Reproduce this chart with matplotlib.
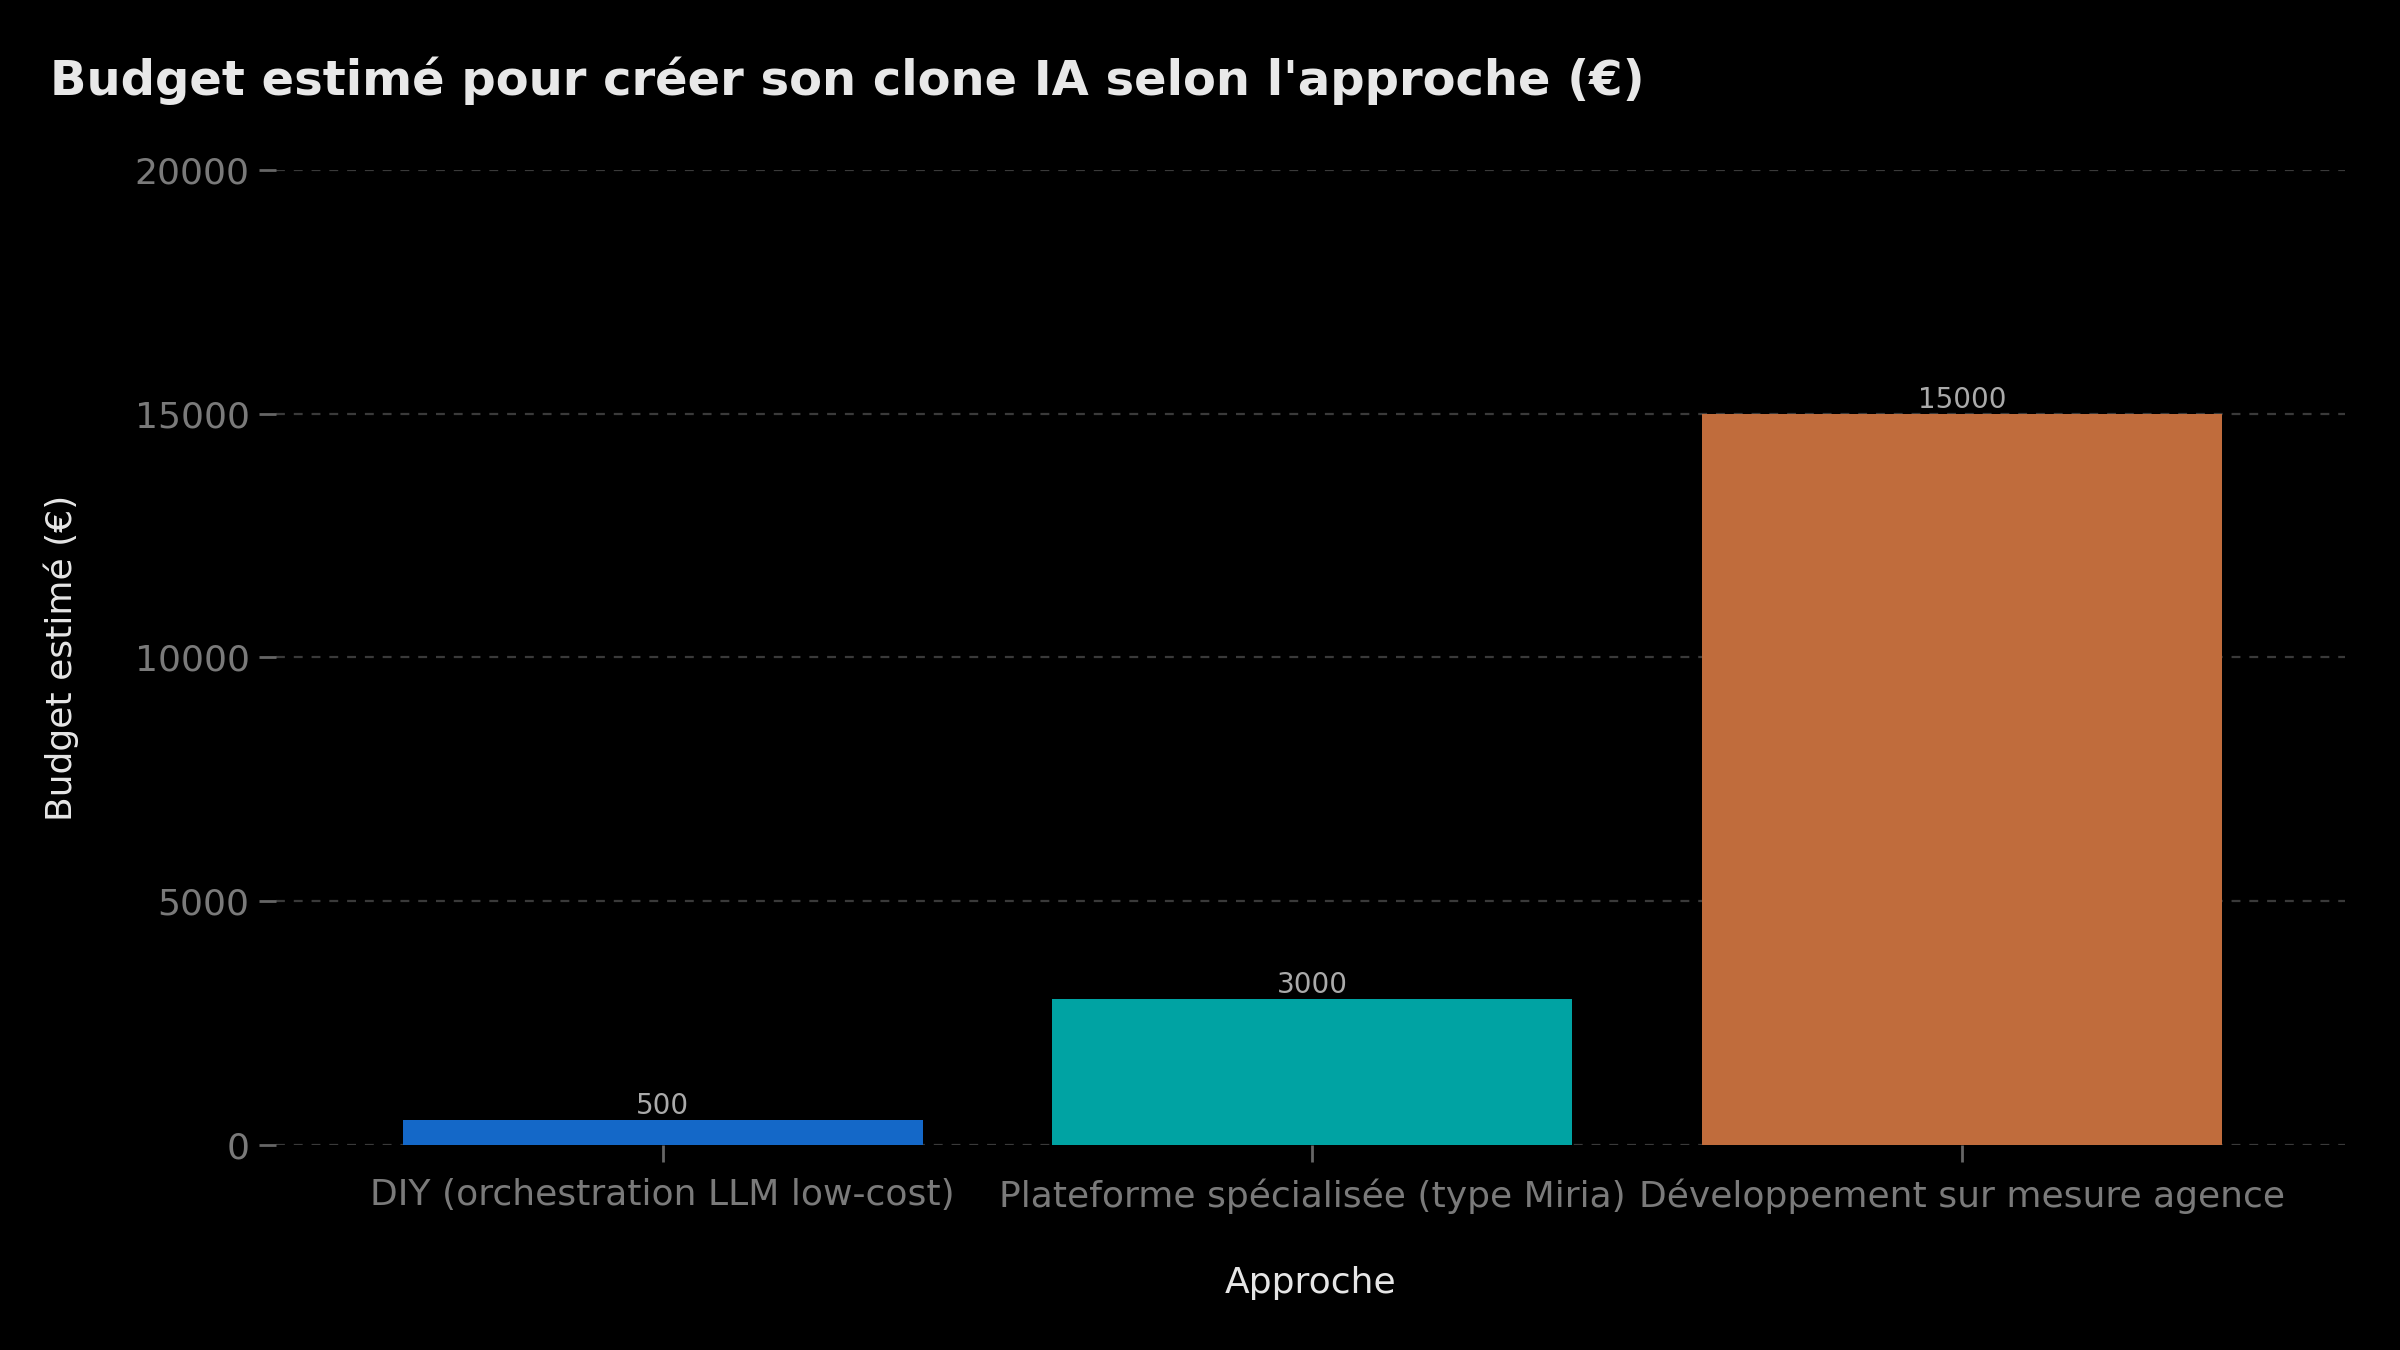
import matplotlib
matplotlib.use('Agg')
import matplotlib.pyplot as plt

# data
approches = ['DIY (orchestration LLM low-cost)',
             'Plateforme spécialisée (type Miria)',
             'Développement sur mesure agence']
budgets = [500, 3000, 15000]
couleurs = ['#1468C8', '#00A3A3', '#C06C3C']
yticks = [0, 5000, 10000, 15000, 20000]

plt.rcParams['font.family'] = ['DejaVu Sans']

fig = plt.figure(figsize=(12, 6.75), dpi=200, facecolor='black')
ax = fig.add_axes([0.115, 0.152, 0.862, 0.722])
ax.set_facecolor('black')

x = list(range(len(approches)))
bars = ax.bar(x, budgets, width=0.8, color=couleurs, zorder=3)
for b, v in zip(bars, budgets):
    ax.text(b.get_x() + b.get_width() / 2, v, str(v), ha='center', va='bottom',
            fontsize=10, color='#aaaaaa', zorder=4)

ax.set_xticks(x)
ax.set_xticklabels(approches)
ax.set_yticks(yticks)
ax.set_xlim(-0.595, 2.589)
ax.set_ylim(0, 20000)
ax.tick_params(axis='both', colors='#666666', labelcolor='#7a7a7a', labelsize=13,
               length=6, width=1)
ax.tick_params(axis='x', pad=6)
ax.grid(axis='y', color='#3a3a3a', linestyle=(0, (4, 4)), linewidth=0.8, zorder=0)
for s in ax.spines.values():
    s.set_visible(False)

ax.set_xlabel('Approche', fontsize=13, color='#e6e6e6', labelpad=19)
ax.set_ylabel('Budget estimé (€)', fontsize=13, color='#e6e6e6', labelpad=20)

fig.text(0.021, 0.94, "Budget estimé pour créer son clone IA selon l'approche (€)",
         fontsize=17.3, fontweight='bold', color='#e8e8e8', ha='left', va='center')

fig.savefig('out.png', dpi=200, facecolor='black')
